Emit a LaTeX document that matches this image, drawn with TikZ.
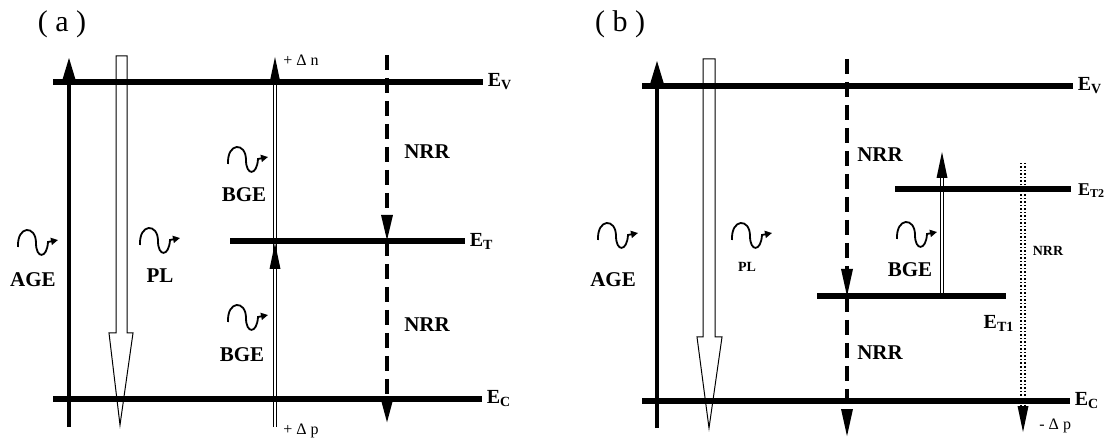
\documentclass[tikz,border=0pt]{standalone}
\usepackage{fontspec}
\setmainfont{Liberation Serif}
\usetikzlibrary{arrows.meta,calc,positioning}

\tikzset{
  level/.style={line width=2.8pt},
  pump/.style={line width=2pt,-{Triangle[length=11.5pt,width=6pt]}},
  nrr/.style={line width=1.6pt,dash pattern=on 7.5pt off 4pt,-{Triangle[length=#1,width=5.5pt]}},
  bge/.style={double,double distance=0.9pt,line width=0.35pt},
  trap/.style={double,double distance=1.2pt,line width=0.75pt,densely dotted},
  hollow/.style={line width=0.5pt},
  lbl/.style={font=\bfseries\fontsize{10.5}{12}\selectfont},
  small/.style={font=\bfseries\fontsize{7}{8}\selectfont},
  ename/.style={inner sep=1pt,font=\bfseries\fontsize{10}{12}\selectfont},
  elbl/.style={ename,right},
  panel/.style={font=\fontsize{15}{16}\selectfont},
  delta/.style={right,inner sep=1pt,font=\fontsize{8}{9}\selectfont},
  photon/.pic={\draw[line width=0.9pt,-{Triangle[length=3.5pt,width=3.5pt]}]
    (0,17) .. controls (-1,-5) and (18,-5) .. (18,13)
    .. controls (18,29) and (29,29) .. (30,12) -- (40,10);},
  uptip/.pic={\fill (-5.5,26) -- (5.5,26) -- (0,0) -- cycle;}
}

\begin{document}
\begin{tikzpicture}[x=0.5pt,y=-0.5pt]
  \useasboundingbox (0,0) rectangle (1106,442);

  % (a)
  \node[panel] (ta) at (62,24) {( a )};
  \coordinate (evL) at (53,82);   \coordinate (evR) at (483,82);
  \coordinate (etL) at (230,241); \coordinate (etR) at (465,241);
  \coordinate (ecL) at (53,399);  \coordinate (ecR) at (482,399);
  \coordinate (ageB) at (69,427); \coordinate (ageT) at (69,57);
  \coordinate (bgeB) at (275,427); \coordinate (bgeV) at (275,82);
  \coordinate (nrrT) at (387,55); \coordinate (nrrE) at (387,241);
  \coordinate (nrrB) at (387,423);

  \draw[hollow] (116,56) -- (127,56) -- (127,333) -- (133,333) -- (120,425)
    -- (109,333) -- (116,333) -- cycle;
  \draw[pump] (ageB) -- (ageT);
  \draw[bge] (bgeB) -- (bgeV);
  \pic at (275,57) {uptip};
  \pic at (275,243) {uptip};
  \draw[nrr=13pt] (nrrT) -- (nrrE);
  \draw[nrr=11.5pt] (nrrE) -- (nrrB);

  \draw[level] (evL) -- (evR) node[elbl] (eva) {E\textsubscript{V}};
  \draw[level] (etL) -- (etR) node[elbl] (eta) {E\textsubscript{T}};
  \draw[level] (ecL) -- (ecR) node[elbl] (eca) {E\textsubscript{C}};

  \pic at (18,230) {photon};
  \pic at (140,228) {photon};
  \pic at (228,147) {photon};
  \pic at (228,305) {photon};
  \node[lbl] (agea) at (33,280) {AGE};
  \node[lbl] (pla) at (160,276) {PL};
  \node[lbl] (bgea1) at (244,195) {BGE};
  \node[lbl] (bgea2) at (242,355) {BGE};
  \node[lbl] (nrra1) at (427,152) {NRR};
  \node[lbl] (nrra2) at (427,325) {NRR};
  \node[delta] (dn) at (281,60) {+ Δ n};
  \node[delta] (dpa) at (281,431) {+ Δ p};

  % (b)
  \node[panel] (tb) at (620,24) {( b )};
  \coordinate (fvL) at (642,86);   \coordinate (fvR) at (1073,86);
  \coordinate (t2L) at (895,189);  \coordinate (t2R) at (1071,189);
  \coordinate (t1L) at (817,296);  \coordinate (t1R) at (1006,296);
  \coordinate (fcL) at (642,401);  \coordinate (fcR) at (1070,401);
  \coordinate (agbB) at (657,428); \coordinate (agbT) at (657,60);
  \coordinate (nrbT) at (847,59);  \coordinate (nrbE) at (847,297);
  \coordinate (nrbB) at (847,437);
  \coordinate (bgbB) at (942,296); \coordinate (bgbT) at (942,178);
  \coordinate (trT) at (1023,163); \coordinate (trB) at (1023,410);

  \draw[hollow] (703,59) -- (715,59) -- (715,337) -- (722,337) -- (709,428)
    -- (697,337) -- (703,337) -- cycle;
  \draw[pump] (agbB) -- (agbT);
  \draw[nrr=14pt] (nrbT) -- (nrbE);
  \draw[nrr=14pt] (nrbE) -- (nrbB);
  \draw[bge] (bgbB) -- (bgbT);
  \pic at (942,152) {uptip};
  \draw[trap] (trT) -- (trB);
  \pic[rotate=180] at (1023,432) {uptip};

  \draw[level] (fvL) -- (fvR) node[elbl] (evb) {E\textsubscript{V}};
  \draw[level] (t2L) -- (t2R);
  \draw[level] (t1L) -- (t1R);
  \draw[level] (fcL) -- (fcR) node[elbl] (ecb) {E\textsubscript{C}};
  \node[ename,anchor=east,inner sep=0.3pt,font=\bfseries\fontsize{9}{10}\selectfont]
    (et2) at (1106,191) {E\textsubscript{T2}};
  \node[ename] (et1) at (999,323) {E\textsubscript{T1}};

  \pic at (598,223) {photon};
  \pic at (732,223) {photon};
  \pic at (897,222) {photon};
  \node[lbl] (ageb) at (613,280) {AGE};
  \node[small] (plb) at (747,267) {PL};
  \node[lbl] (bgeb) at (910,270) {BGE};
  \node[lbl] (nrrb1) at (880,155) {NRR};
  \node[lbl] (nrrb2) at (880,353) {NRR};
  \node[small] (nrrb3) at (1048,251) {NRR};
  \node[delta] (dpb) at (1037,426) {- Δ p};
\end{tikzpicture}
\end{document}
